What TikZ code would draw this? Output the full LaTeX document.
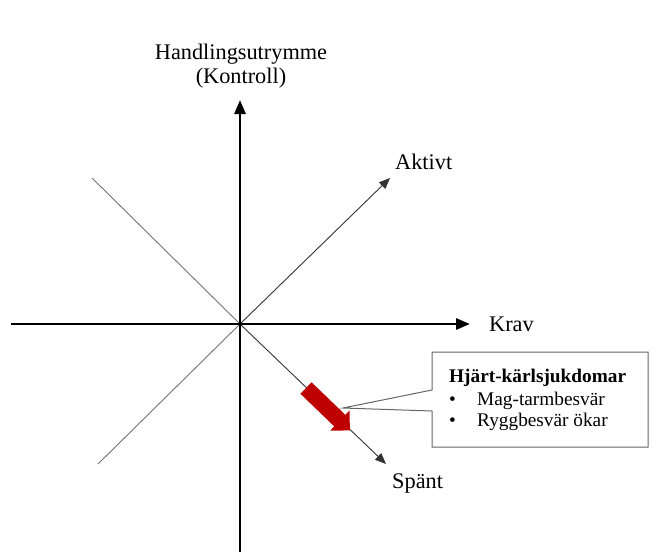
\documentclass[tikz,border=0pt]{standalone}
\usepackage{fontspec}
\setmainfont{Liberation Serif}
\usetikzlibrary{arrows.meta}
\begin{document}
\begin{tikzpicture}[x=1pt,y=-1pt,
  axis/.style={line width=2.8pt,-{Triangle[length=14pt,width=11pt]}},
  diag/.style={line width=0.9pt,draw=black!80,-{Triangle[length=11pt,width=9pt]}},
  guide/.style={line width=0.9pt,draw=black!55},
  lbl/.style={inner sep=0pt,font=\fontsize{22.3}{25}\selectfont},
  boxtxt/.style={inner sep=0pt,anchor=base west,font=\fontsize{19.3}{22}\selectfont},
  callout/.style={draw=black!60,line width=1pt,fill=white},
  stress/.style={fill=red!75!black,draw=none}]
\useasboundingbox (0,0) rectangle (657,558);

% reference points
\coordinate (O) at (240,324);
\coordinate (xl) at (11,324);
\coordinate (xr) at (470,324);
\coordinate (yb) at (240,552);
\coordinate (yt) at (240,100);
\coordinate (ul) at (92,178);
\coordinate (ll) at (98,464);
\coordinate (ur) at (390,178);
\coordinate (lr) at (386,464);

% thin diagonals
\draw[guide] (ul) -- (O);
\draw[guide] (ll) -- (O);
\draw[diag] (O) -- (ur);
\draw[diag] (O) -- (lr);

% main axes
\draw[axis] (xl) -- (xr);
\draw[axis] (yb) -- (yt);

% axis labels
\node[lbl,anchor=base] (hand) at (241,59) {Handlingsutrymme};
\node[lbl,anchor=base] (kontr) at (241,83) {(Kontroll)};
\node[lbl,anchor=base west] (krav) at (489,331) {Krav};
\node[lbl,anchor=base west] (akt) at (395,169) {Aktivt};
\node[lbl,anchor=base west] (spant) at (392,488) {Spänt};

% red block arrow along the strain diagonal
\begin{scope}[shift={(306,388)},rotate=-44]
  \fill[stress] (0,-8) -- (47,-8) -- (47,-14) -- (61,0) -- (47,14) -- (47,8) -- (0,8) -- cycle;
\end{scope}

% callout box with pointer
\coordinate (ptr) at (343,408);
\draw[callout] (432,352) -- (648,352) -- (648,447) -- (432,447) -- (432,411)
  -- (ptr) -- (432,390) -- cycle;
\node[boxtxt,font=\fontsize{19.3}{22}\selectfont\bfseries] (t1) at (449,382) {Hjärt-kärlsjukdomar};
\node[boxtxt] (b1) at (449,405) {•};
\node[boxtxt] (t2) at (477,405) {Mag-tarmbesvär};
\node[boxtxt] (b2) at (449,426) {•};
\node[boxtxt] (t3) at (477,426) {Ryggbesvär ökar};
\end{tikzpicture}
\end{document}
